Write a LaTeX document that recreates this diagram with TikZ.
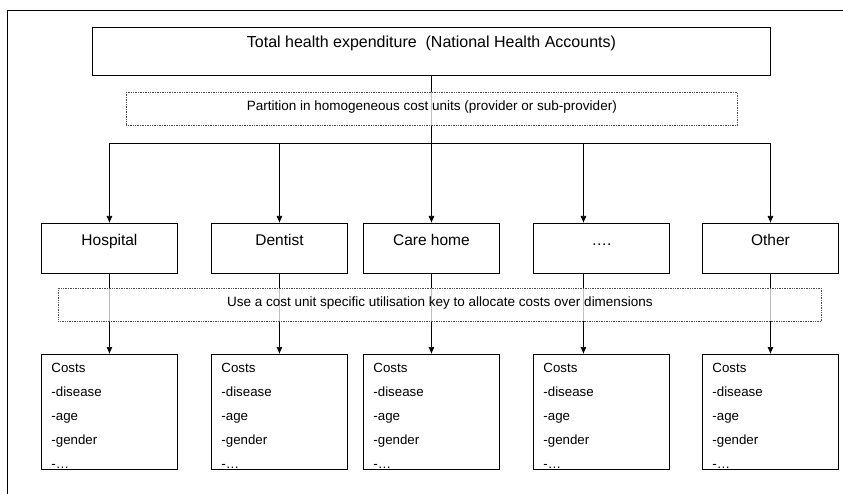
\documentclass[tikz,border=0pt]{standalone}
\usepackage{fontspec}
\setmainfont{Liberation Sans}
\usetikzlibrary{arrows.meta}
\newcommand{\costlines}{\vtop{\hsize=116pt\parindent=0pt\baselineskip=24pt\lineskiplimit=-20pt Costs\par -disease\par -age\par -gender\par -…}}
\begin{document}
\begin{tikzpicture}[x=1pt,y=-1pt,
  solidbox/.style={draw=black, line width=0.9pt, inner sep=0pt, anchor=north west},
  childbox/.style={solidbox, minimum width=136pt, text height=22pt, text depth=28pt, font=\fontsize{15.5}{18}\selectfont},
  costbox/.style={solidbox, minimum width=136pt, text height=18pt, text depth=97pt, font=\fontsize{13.3}{24}\selectfont},
  dotbox/.style={draw=gray!60!black, densely dotted, line width=0.7pt, fill=white, fill opacity=0.75, text opacity=1, inner sep=0pt, anchor=north west, text height=18pt, text depth=15pt, font=\fontsize{13.5}{16}\selectfont},
  conn/.style={line width=0.7pt, draw=black},
  arr/.style={conn, -{Latex[length=7pt,width=6pt]}},
]
\useasboundingbox (0,0) rectangle (843,494);
% outer frame
\draw[line width=0.8pt] (7,494) -- (7,10.5) -- (843,10.5);

% top box
\node[solidbox, minimum width=678pt, text height=20pt, text depth=28pt, font=\fontsize{16}{19}\selectfont] (total) at (92,27) {Total health expenditure\ \ (National Health Accounts)};

% children
\node[childbox] (hosp)  at (41,223)  {Hospital};
\node[childbox] (dent)  at (211,223) {Dentist};
\node[childbox] (care)  at (363,223) {Care home};
\node[childbox] (dots)  at (533,223) {….};
\node[childbox] (other) at (702,223) {Other};

% cost boxes
\node[costbox] (c1) at (41,354)  {\costlines};
\node[costbox] (c2) at (211,354) {\costlines};
\node[costbox] (c3) at (363,354) {\costlines};
\node[costbox] (c4) at (533,354) {\costlines};
\node[costbox] (c5) at (702,354) {\costlines};

% connectors
\draw[conn] (total.south) -- ++(0,67) coordinate (hub);
\draw[arr] (hub) -| (hosp.north);
\draw[arr] (hub) -| (dent.north);
\draw[arr] (hub) -- (care.north);
\draw[arr] (hub) -| ([xshift=-18pt]dots.north);
\draw[arr] (hub) -| (other.north);

\draw[arr] (hosp.south) -- (c1.north);
\draw[arr] (dent.south) -- (c2.north);
\draw[arr] (care.south) -- (c3.north);
\draw[arr] ([xshift=-18pt]dots.south) -- ([xshift=-18pt]c4.north);
\draw[arr] (other.south) -- (c5.north);

% dotted boxes
\node[dotbox, minimum width=611pt] (part) at (126,92) {Partition in homogeneous cost units (provider or sub-provider)};
\node[dotbox, minimum width=763pt] (key) at (58,288) {Use a cost unit specific utilisation key to allocate costs over dimensions};
\end{tikzpicture}
\end{document}
